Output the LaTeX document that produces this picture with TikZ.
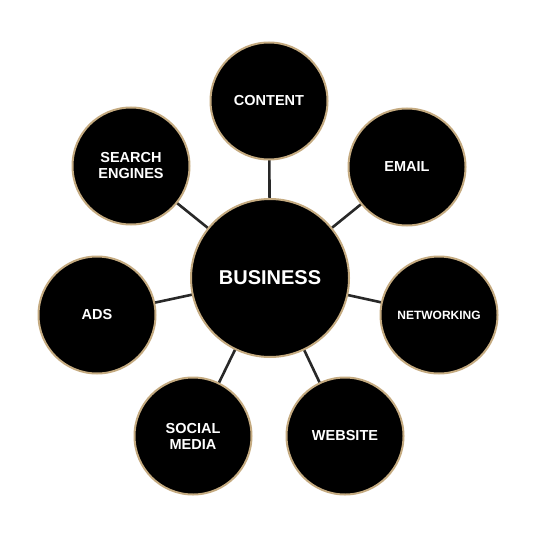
\documentclass[tikz,border=0pt]{standalone}
\usepackage{fontspec}
\setmainfont{Liberation Sans}
\usetikzlibrary{backgrounds}

\definecolor{ringgold}{RGB}{196,170,128}
\definecolor{linkgray}{RGB}{40,40,40}

\tikzset{
    hub/.style={circle, fill=black, draw=ringgold, line width=2pt,
        minimum size=158pt, inner sep=0pt, text=white,
        font=\bfseries\fontsize{20}{22}\selectfont},
    spoke/.style={circle, fill=black, draw=ringgold, line width=2pt,
        minimum size=117pt, inner sep=0pt, text=white, align=center,
        font=\bfseries\fontsize{14.5}{16}\selectfont},
    link/.style={draw=linkgray, line width=2.6pt}
}

\begin{document}
\begin{tikzpicture}[x=1pt,y=1pt]

    % Fix the page size
    \useasboundingbox (0,0) rectangle (545,539);

    % Draw the centre
    \node[hub] (business) at (270,261) {BUSINESS};

    % Draw the outer circles
    \node[spoke] (content) at (269,438) {CONTENT};
    \node[spoke] (email) at (407,372) {EMAIL};
    \node[spoke, font=\bfseries\fontsize{12}{14}\selectfont] (networking) at (439,224) {NETWORKING};
    \node[spoke] (website) at (345,103) {WEBSITE};
    \node[spoke] (social) at (193,103) {SOCIAL\\MEDIA};
    \node[spoke] (ads) at (97,224) {ADS};
    \node[spoke] (search) at (131,373) {SEARCH\\ENGINES};

    % Draw the connectors behind
    \begin{scope}[on background layer]
        \foreach \outer in {content,email,networking,website,social,ads,search}
            \draw[link] (business.center) -- (\outer.center);
    \end{scope}

\end{tikzpicture}
\end{document}
